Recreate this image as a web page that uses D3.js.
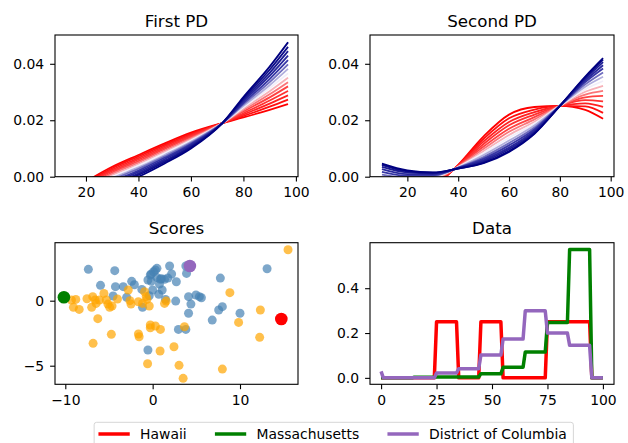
<!DOCTYPE html>
<html>
<head>
<meta charset="utf-8">
<script src="https://cdn.jsdelivr.net/npm/d3@7"></script>
<style>
body { margin: 0; background: #fff; }
svg { font-family: "DejaVu Sans", sans-serif; }
.axis text { font-family: "DejaVu Sans", sans-serif; font-size: 13.9px; fill: #000; }
.axis line { stroke: #000; stroke-width: 1.1px; }
.title { font-size: 16.7px; text-anchor: middle; fill: #000; }
.legend text { font-size: 13.9px; fill: #000; }
</style>
</head>
<body>
<script>
var width = 628;
var height = 443;

// first PD: one row per line, from red (first) to navy (last)
var pd1X = [20, 30, 40, 50, 60, 72, 80, 90, 97];
var pd1Lines = [
    [-0.0017, 0.0035, 0.0077, 0.0118, 0.0156, 0.0190, 0.0210, 0.0237, 0.0257],
    [-0.0020, 0.0030, 0.0072, 0.0113, 0.0152, 0.0190, 0.0215, 0.0248, 0.0273],
    [-0.0024, 0.0025, 0.0066, 0.0108, 0.0148, 0.0190, 0.0220, 0.0259, 0.0288],
    [-0.0027, 0.0020, 0.0061, 0.0103, 0.0144, 0.0190, 0.0225, 0.0270, 0.0304],
    [-0.0031, 0.0015, 0.0055, 0.0098, 0.0140, 0.0190, 0.0231, 0.0281, 0.0320],
    [-0.0034, 0.0010, 0.0050, 0.0093, 0.0136, 0.0190, 0.0236, 0.0292, 0.0335],
    [-0.0038, 0.0005, 0.0044, 0.0088, 0.0132, 0.0190, 0.0241, 0.0303, 0.0351],
    [-0.0041, 0.0000, 0.0039, 0.0083, 0.0128, 0.0190, 0.0246, 0.0314, 0.0366],
    [-0.0044, -0.0005, 0.0033, 0.0077, 0.0124, 0.0190, 0.0251, 0.0324, 0.0382],
    [-0.0048, -0.0010, 0.0028, 0.0072, 0.0120, 0.0190, 0.0256, 0.0335, 0.0398],
    [-0.0051, -0.0015, 0.0022, 0.0067, 0.0116, 0.0190, 0.0261, 0.0346, 0.0413],
    [-0.0055, -0.0020, 0.0017, 0.0062, 0.0112, 0.0190, 0.0267, 0.0357, 0.0429],
    [-0.0058, -0.0025, 0.0011, 0.0057, 0.0108, 0.0190, 0.0272, 0.0368, 0.0445],
    [-0.0062, -0.0030, 0.0006, 0.0052, 0.0104, 0.0190, 0.0277, 0.0379, 0.0460],
    [-0.0065, -0.0035, 0.0000, 0.0047, 0.0100, 0.0190, 0.0282, 0.0390, 0.0476]
];

// second PD, same order
var pd2X = [10, 20, 30, 40, 50, 60, 70, 80, 90, 97];
var pd2Lines = [
    [-0.0120, -0.0090, -0.0040, 0.0042, 0.0143, 0.0220, 0.0247, 0.0251, 0.0237, 0.0205],
    [-0.0104, -0.0079, -0.0035, 0.0041, 0.0134, 0.0207, 0.0238, 0.0251, 0.0249, 0.0226],
    [-0.0088, -0.0068, -0.0029, 0.0039, 0.0125, 0.0194, 0.0229, 0.0251, 0.0260, 0.0247],
    [-0.0072, -0.0058, -0.0024, 0.0038, 0.0116, 0.0182, 0.0220, 0.0251, 0.0271, 0.0267],
    [-0.0058, -0.0048, -0.0019, 0.0037, 0.0107, 0.0170, 0.0211, 0.0251, 0.0281, 0.0286],
    [-0.0043, -0.0038, -0.0015, 0.0036, 0.0099, 0.0159, 0.0203, 0.0251, 0.0291, 0.0304],
    [-0.0030, -0.0029, -0.0010, 0.0035, 0.0091, 0.0148, 0.0195, 0.0251, 0.0301, 0.0322],
    [-0.0017, -0.0020, -0.0006, 0.0034, 0.0084, 0.0138, 0.0188, 0.0251, 0.0310, 0.0339],
    [-0.0005, -0.0012, -0.0002, 0.0033, 0.0077, 0.0128, 0.0181, 0.0251, 0.0319, 0.0354],
    [0.0007, -0.0004, 0.0002, 0.0032, 0.0070, 0.0119, 0.0174, 0.0251, 0.0327, 0.0369],
    [0.0017, 0.0003, 0.0005, 0.0031, 0.0064, 0.0111, 0.0168, 0.0251, 0.0335, 0.0383],
    [0.0027, 0.0009, 0.0009, 0.0031, 0.0059, 0.0103, 0.0163, 0.0251, 0.0341, 0.0395],
    [0.0035, 0.0015, 0.0011, 0.0030, 0.0054, 0.0097, 0.0158, 0.0251, 0.0347, 0.0406],
    [0.0042, 0.0019, 0.0014, 0.0029, 0.0050, 0.0091, 0.0154, 0.0251, 0.0352, 0.0415],
    [0.0046, 0.0022, 0.0015, 0.0029, 0.0048, 0.0088, 0.0152, 0.0251, 0.0355, 0.0420]
];

// scores (PC1, PC2)
var blueScores = [
    [-7.36, 2.41], [-4.34, 2.31], [-5.97, 1.18], [-4.26, 1.08], [-3.37, 1.08], [-2.40, 1.49],
    [-2.09, 1.23], [-1.24, 0.87], [-4.53, 0.36], [-2.98, 0.26], [-1.16, -0.51], [-0.54, 1.59],
    [-0.16, 2.05], [0.31, 2.36], [0.47, 1.79], [-0.16, 1.49], [1.01, 1.69], [1.36, 1.64],
    [1.74, 1.74], [1.94, 2.67], [2.17, 2.05], [2.71, 1.46], [3.80, 2.67], [3.88, 2.10],
    [0.78, 1.28], [1.09, 0.82], [0.70, 0.49], [0.00, 0.82], [-0.39, 0.38], [1.47, 0.10],
    [2.64, -0.03], [4.11, 0.31], [4.96, 0.44], [5.35, 0.31], [5.58, 0.23], [4.38, -0.26],
    [4.11, -0.97], [2.95, -2.21], [3.80, -2.21], [-0.54, -3.79], [6.82, -1.49], [7.56, -0.72],
    [7.98, -0.46], [7.75, 1.74], [10.0, -0.97], [13.1, 2.46], [-0.27, 1.98], [0.88, 1.64],
    [0.11, 2.23], [0.49, 2.49]
];
var orangeScores = [
    [15.5, 3.92], [8.84, 0.62], [12.33, -0.72], [9.84, -1.67], [12.25, -2.82], [7.98, -5.26],
    [3.49, -5.97], [3.02, -4.97], [2.44, -3.54], [0.85, -3.87], [-0.58, -4.85], [0.89, -2.21],
    [0.31, -1.95], [-0.27, -2.08], [-0.27, -1.87], [-1.63, -2.56], [-1.55, -2.77], [-4.73, -2.59],
    [-6.82, -3.28], [-6.28, -1.38], [3.64, -2.00], [-9.30, 0.05], [-8.80, 0.10], [-9.07, -0.51],
    [-8.41, -0.67], [-7.52, 0.15], [-6.86, 0.31], [-6.59, 0.05], [-6.98, -0.51], [-6.47, -0.21],
    [-6.09, 0.05], [-5.58, 0.56], [-5.31, 0.05], [-5.12, -0.26], [-4.92, -0.51], [-4.65, -0.41],
    [-4.03, 0.13], [-2.79, 0.82], [-2.60, 0.00], [-2.48, -0.26], [-1.63, -0.08], [-1.16, -0.21],
    [-0.93, 0.69], [-0.74, 0.31], [-0.66, 0.10], [-0.39, -0.41], [1.36, -0.21], [1.55, -0.03]
];

var states = ["Hawaii", "Massachusetts", "District of Columbia"];
var stateColors = ["#ff0000", "#008000", "#9467bd"];
var stateScores = [[14.73, -1.41], [-10.16, 0.26], [4.26, 2.67]];

// age profiles, polyline vertices [age, share]
var hawaii = [[0, 0], [24, 0], [25, 0.25], [34, 0.25], [35, 0], [44, 0], [45, 0.25], [54, 0.25],
    [55, 0], [74, 0], [75, 0.25], [94, 0.25], [95, 0], [100, 0]];
var massachusetts = [[0, 0], [14, 0], [15, 0.003], [24, 0.003], [25, 0.004], [44, 0.004],
    [45, 0.018], [54, 0.018], [55, 0.047], [64, 0.047], [65, 0.115], [74, 0.115], [75, 0.247],
    [84, 0.247], [85, 0.573], [94, 0.573], [95, 0], [100, 0]];
var columbia = [[0, 0.029], [1, 0], [24, 0], [25, 0.022], [34, 0.022], [35, 0.041], [44, 0.041],
    [45, 0.102], [54, 0.102], [55, 0.173], [64, 0.173], [65, 0.299], [74, 0.299], [75, 0.2],
    [84, 0.2], [85, 0.145], [94, 0.145], [95, 0], [100, 0]];
var stateSeries = [hawaii, massachusetts, columbia];

var svg = d3.select("body").append("svg")
    .attr("width", width)
    .attr("height", height);

svg.append("rect").attr("width", width).attr("height", height).attr("fill", "#fff");

var boxes = {
    pd1: { l: 55, r: 298, t: 35, b: 176.7 },
    pd2: { l: 370, r: 614, t: 35, b: 176.7 },
    scores: { l: 55, r: 298, t: 242.7, b: 384.3 },
    data: { l: 370, r: 614, t: 242.7, b: 384.3 }
};

function makePanel(id, box, xDom, yDom) {
    var x = d3.scaleLinear().domain(xDom).range([box.l, box.r]);
    var y = d3.scaleLinear().domain(yDom).range([box.b, box.t]);
    svg.append("clipPath").attr("id", "clip-" + id)
        .append("rect")
        .attr("x", box.l).attr("y", box.t)
        .attr("width", box.r - box.l).attr("height", box.b - box.t);
    var plot = svg.append("g").attr("clip-path", "url(#clip-" + id + ")");
    return { x: x, y: y, plot: plot, box: box };
}

function finishPanel(p, title, xTicks, yTicks, xFmt, yFmt) {
    var box = p.box;
    svg.append("g")
        .attr("class", "axis")
        .attr("transform", "translate(0," + box.b + ")")
        .call(d3.axisBottom(p.x).tickValues(xTicks).tickFormat(xFmt).tickSize(4.9).tickPadding(5.5))
        .call(function (g) { g.select(".domain").remove(); });
    svg.append("g")
        .attr("class", "axis")
        .attr("transform", "translate(" + box.l + ",0)")
        .call(d3.axisLeft(p.y).tickValues(yTicks).tickFormat(yFmt).tickSize(4.9).tickPadding(6))
        .call(function (g) { g.select(".domain").remove(); });
    svg.append("rect")
        .attr("x", box.l).attr("y", box.t)
        .attr("width", box.r - box.l).attr("height", box.b - box.t)
        .attr("fill", "none")
        .attr("stroke", "#000")
        .attr("stroke-width", 1.1);
    svg.append("text")
        .attr("class", "title")
        .attr("x", (box.l + box.r) / 2)
        .attr("y", box.t - 8.3)
        .text(title);
}

// red -> pale -> navy, saturating quickly away from the middle
var fanColor = d3.scaleLinear()
    .domain([0, 0.3, 0.5, 0.7, 1])
    .range(["#ff0000", "#ff4545", "#f2eefa", "#3a3aa8", "#000080"]);

function drawFan(p, xs, lines) {
    var line = d3.line()
        .x(function (d, i) { return p.x(xs[i]); })
        .y(function (d) { return p.y(d); })
        .curve(d3.curveMonotoneX);
    p.plot.selectAll("path.fan")
        .data(lines)
        .enter().append("path")
        .attr("class", "fan")
        .attr("d", line)
        .attr("fill", "none")
        .attr("stroke", function (d, i) { return fanColor(i / (lines.length - 1)); })
        .attr("stroke-width", 1.8);
}

var f2 = d3.format(".2f");
var f1 = d3.format(".1f");
var f0 = d3.format("d");

// First PD
var p1 = makePanel("pd1", boxes.pd1, [8.2, 100.8], [0, 0.0502]);
drawFan(p1, pd1X, pd1Lines);
finishPanel(p1, "First PD", [20, 40, 60, 80, 100], [0, 0.02, 0.04], f0, f2);

// Second PD
var p2 = makePanel("pd2", boxes.pd2, [5.3, 101.3], [0, 0.0502]);
drawFan(p2, pd2X, pd2Lines);
finishPanel(p2, "Second PD", [20, 40, 60, 80, 100], [0, 0.02, 0.04], f0, f2);

// Scores
var p3 = makePanel("scores", boxes.scores, [-11.18, 16.64], [-6.43, 4.46]);
p3.plot.selectAll("circle.blue")
    .data(blueScores)
    .enter().append("circle")
    .attr("class", "blue")
    .attr("cx", function (d) { return p3.x(d[0]); })
    .attr("cy", function (d) { return p3.y(d[1]); })
    .attr("r", 4.5)
    .style("fill", "steelblue")
    .style("opacity", 0.7);
p3.plot.selectAll("circle.orange")
    .data(orangeScores)
    .enter().append("circle")
    .attr("class", "orange")
    .attr("cx", function (d) { return p3.x(d[0]); })
    .attr("cy", function (d) { return p3.y(d[1]); })
    .attr("r", 4.5)
    .style("fill", "orange")
    .style("opacity", 0.7);
p3.plot.selectAll("circle.state")
    .data(stateScores)
    .enter().append("circle")
    .attr("class", "state")
    .attr("cx", function (d) { return p3.x(d[0]); })
    .attr("cy", function (d) { return p3.y(d[1]); })
    .attr("r", 6.3)
    .style("fill", function (d, i) { return stateColors[i]; });
finishPanel(p3, "Scores", [-10, 0, 10], [-5, 0], f0, f0);

// Data
var p4 = makePanel("data", boxes.data, [-5, 105], [-0.0287, 0.603]);
var dataLine = d3.line()
    .x(function (d) { return p4.x(d[0]); })
    .y(function (d) { return p4.y(d[1]); });
p4.plot.selectAll("path.state")
    .data(stateSeries)
    .enter().append("path")
    .attr("class", "state")
    .attr("d", dataLine)
    .attr("fill", "none")
    .attr("stroke", function (d, i) { return stateColors[i]; })
    .attr("stroke-width", 3.5)
    .attr("stroke-linejoin", "round");
finishPanel(p4, "Data", [0, 25, 50, 75, 100], [0, 0.2, 0.4], f0, f1);

// legend below the panels
var fs = 13.9;
var legend = svg.append("g").attr("class", "legend");
var frame = legend.append("rect");
var cursor = 0;
states.forEach(function (name, i) {
    var it = legend.append("g");
    it.append("line")
        .attr("x1", cursor).attr("x2", cursor + 2 * fs)
        .attr("y1", 0).attr("y2", 0)
        .attr("stroke", stateColors[i])
        .attr("stroke-width", 3.5)
        .attr("stroke-linecap", "square");
    var t = it.append("text")
        .attr("x", cursor + 39.9)
        .attr("y", 5)
        .text(name);
    cursor += 39.9 + t.node().getComputedTextLength() + 30;
});
var legendW = cursor - 30;
var pad = 0.4 * fs;
var legendX = 333.5 - legendW / 2;
legend.attr("transform", "translate(" + legendX + ",434)");
frame
    .attr("x", -pad - 0.5).attr("y", -11.7)
    .attr("width", legendW + 2 * pad + 1.5).attr("height", 26)
    .attr("rx", 2.5)
    .attr("fill", "#fff")
    .attr("stroke", "#d6d6d6")
    .attr("stroke-width", 1);
</script>
</body>
</html>
